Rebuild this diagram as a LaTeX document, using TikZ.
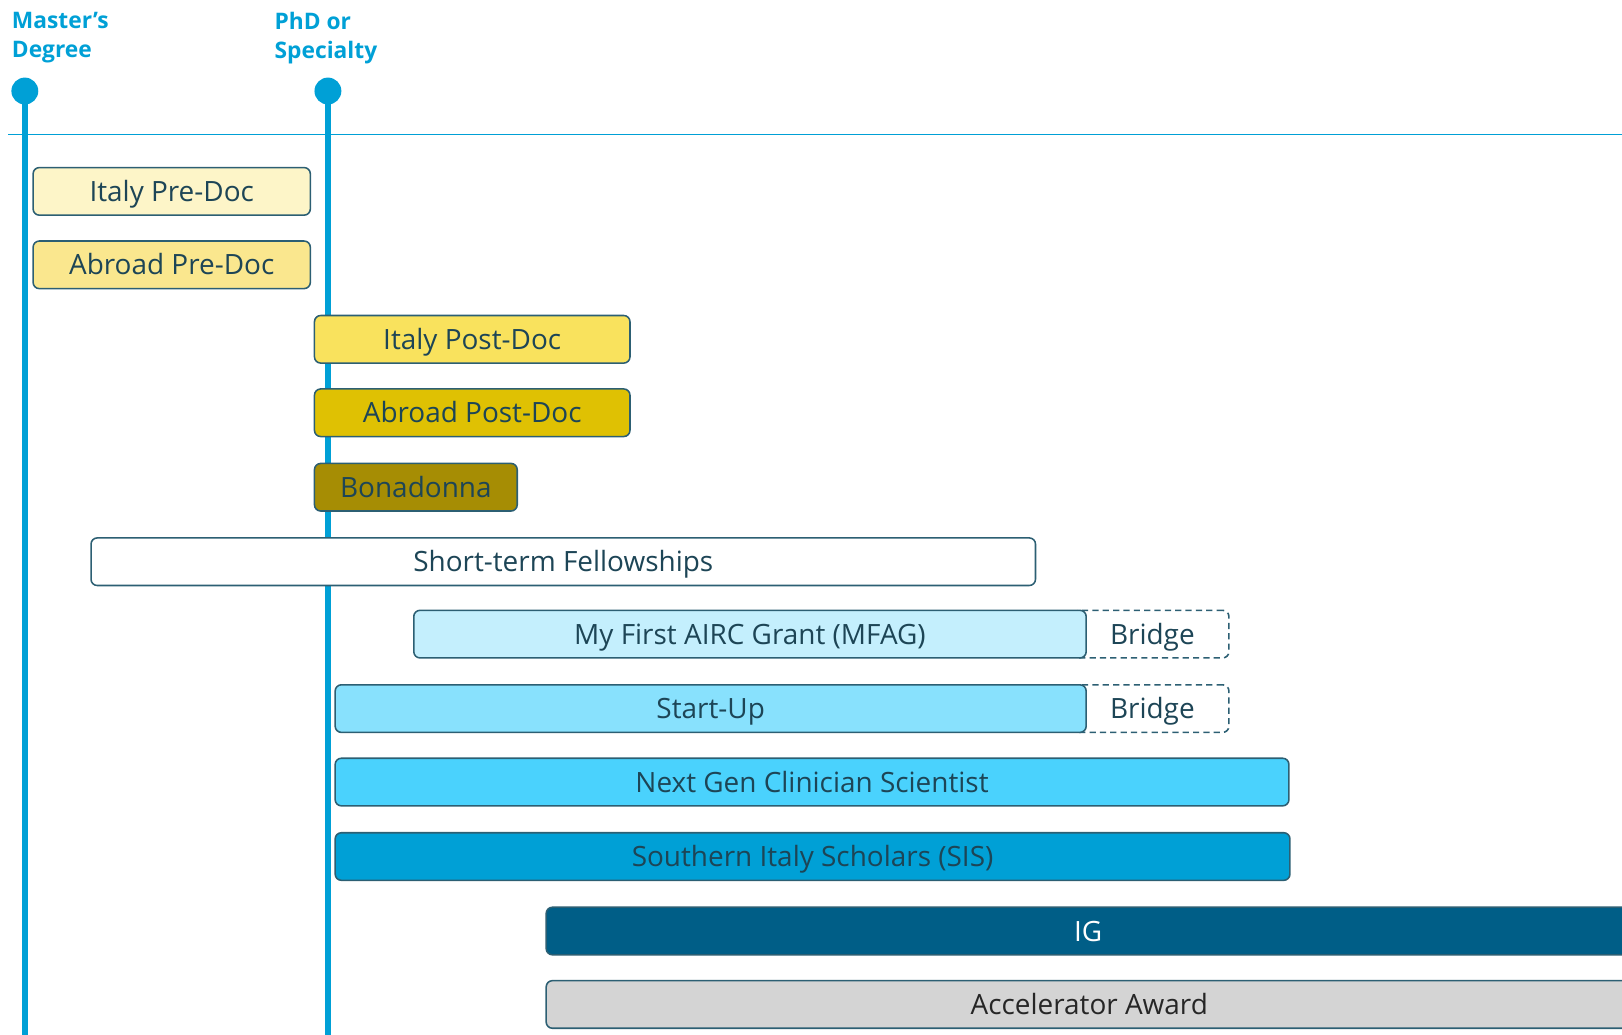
\documentclass[tikz,border=0pt]{standalone}
\usepackage{fontspec}
\setmainfont{Open Sans}
\definecolor{edgec}{HTML}{2C5F73}
\definecolor{txtc}{HTML}{1D4556}
\definecolor{tlblue}{HTML}{00A0D6}
\definecolor{ipre}{HTML}{FDF5C8}
\definecolor{apre}{HTML}{FAE78E}
\definecolor{ipost}{HTML}{F9E25D}
\definecolor{apost}{HTML}{DFC103}
\definecolor{bona}{HTML}{A68D04}
\definecolor{mfagc}{HTML}{C4EFFD}
\definecolor{startc}{HTML}{88E1FD}
\definecolor{nextc}{HTML}{4AD2FD}
\definecolor{sisc}{HTML}{00A0D6}
\definecolor{igc}{HTML}{005E87}
\definecolor{accc}{HTML}{D4D4D4}
\begin{document}
\begin{tikzpicture}[x=1pt,y=-1pt,
  barfont/.style={font=\fontsize{27}{30}\selectfont, text height=19.5pt, text depth=0pt},
  bar/.style={draw=edgec, line width=1.5pt, rounded corners=6pt, inner sep=0pt,
    minimum height=46pt, text=txtc, barfont},
  bridgebox/.style={draw=edgec, dashed, dash pattern=on 6pt off 4pt, line width=1.5pt,
    rounded corners=6pt, inner sep=0pt, minimum height=46pt, text=txtc, barfont, fill=white},
  milestone/.style={circle, fill=tlblue, inner sep=0pt, minimum size=26pt},
  mileline/.style={draw=tlblue, line width=6pt},
  mlabel/.style={anchor=north west, align=left, text=tlblue,
    font=\fontsize{22}{28}\selectfont\bfseries}]
\useasboundingbox (0,0) rectangle (1568,1000.5);
\clip (0,0) rectangle (1568,1000.5);

% axis
\coordinate (axl) at (8,130);
\coordinate (axr) at (1570,130);
\draw[tlblue, line width=1.5pt] (axl) -- (axr);

% milestones
\node[milestone] (ms) at (24,88) {};
\node[milestone] (phd) at (317,88) {};
\coordinate (msend) at (24,1010);
\coordinate (phdend) at (317,1010);
\draw[mileline] (ms.center) -- (msend);
\draw[mileline] (phd.center) -- (phdend);

\node[mlabel] (msl) at (8,8) {Master’s\\Degree};
\node[mlabel] (phdl) at (262,8) {PhD or\\Specialty};

% bars
\node[bar, fill=ipre, minimum width=268pt] (ipredoc) at (166,185) {Italy Pre-Doc};
\node[bar, fill=apre, minimum width=268pt] (apredoc) at (166,256) {Abroad Pre-Doc};
\node[bar, fill=ipost, minimum width=305pt] (ipostdoc) at (456.5,328) {Italy Post-Doc};
\node[bar, fill=apost, minimum width=305pt] (apostdoc) at (456.5,399) {Abroad Post-Doc};
\node[bar, fill=bona, minimum width=196pt] (bonad) at (402,471) {Bonadonna};
\node[bar, fill=white, minimum width=913pt] (short) at (544.5,543) {Short-term Fellowships};

\node[bridgebox, minimum width=150pt] (bridge1) at (1113,613) {\hspace*{2pt}Bridge};
\node[bar, fill=mfagc, minimum width=650pt] (mfag) at (725,613) {My First AIRC Grant (MFAG)};
\node[bridgebox, minimum width=150pt] (bridge2) at (1113,685) {\hspace*{2pt}Bridge};
\node[bar, fill=startc, minimum width=726pt] (startup) at (687,685) {Start-Up};

\node[bar, fill=nextc, minimum width=922pt] (nextgen) at (785,756) {Next Gen Clinician Scientist};
\node[bar, fill=sisc, minimum width=923pt] (sis) at (785.5,828) {Southern Italy Scholars (SIS)};

\node[bar, fill=igc, minimum width=1080pt] (ig) at (1068,900) {};
\node[barfont, text=white, inner sep=0pt] (igtext) at (1052,900) {IG};
\node[bar, fill=accc, minimum width=1080pt] (acc) at (1068,971) {};
\node[barfont, text=black!85, inner sep=0pt] (acctext) at (1053,971) {Accelerator Award};
\end{tikzpicture}
\end{document}
